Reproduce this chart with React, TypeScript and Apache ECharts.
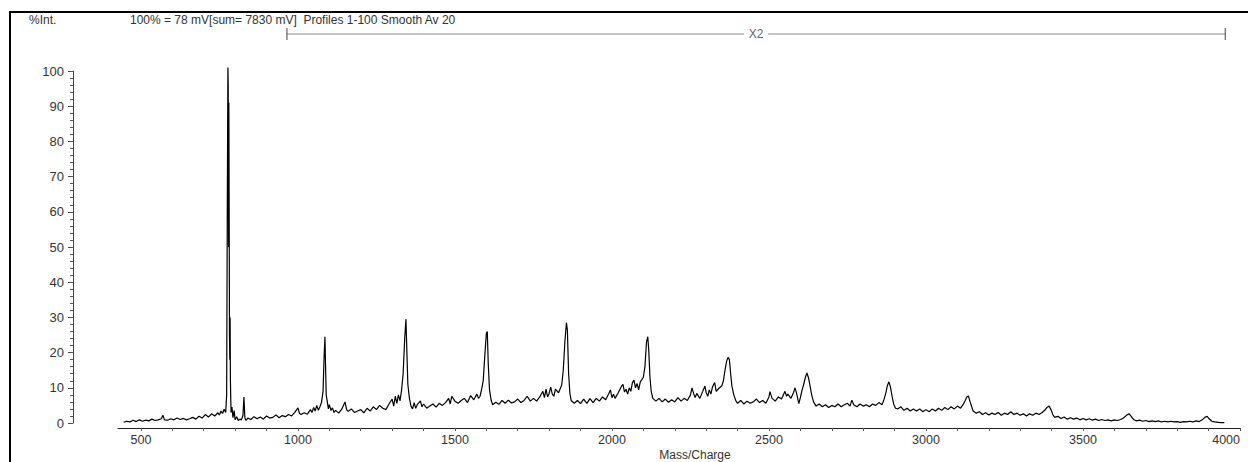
import React, { useEffect, useRef } from "react";
import * as echarts from "echarts";

const FONT = "'Liberation Sans', Arial, Helvetica, sans-serif";

const headerLeft = "%Int.";
const headerInfo = "100% = 78 mV[sum= 7830 mV]  Profiles 1-100 Smooth Av 20";
const xAxisTitle = "Mass/Charge";
const bracketLabel = "X2";
const bracketRange: [number, number] = [965, 3953];

const xMin = 427;
const xMax = 4000;
const xTickValues = [
  500, 600, 700, 800, 900, 1000, 1100, 1200, 1300, 1400, 1500, 1600, 1700, 1800, 1900, 2000,
  2100, 2200, 2300, 2400, 2500, 2600, 2700, 2800, 2900, 3000, 3100, 3200, 3300, 3400, 3500,
  3600, 3700, 3800, 3900, 4000,
];
const xLabelValues = [500, 1000, 1500, 2000, 2500, 3000, 3500, 4000];
const yMin = 0;
const yMax = 100;
const yStep = 10;
const yMinorStep = 2;

// [mass/charge, %intensity]
const lowMassRegion: [number, number][] = [
  [445, 0.2], [455, 0.5], [465, 0.3], [475, 0.8], [485, 0.4], [495, 0.9], [505, 0.5], [515, 0.8],
  [525, 0.6], [535, 1.1], [545, 0.7], [555, 0.9], [565, 1.2], [570, 2.2], [575, 0.9], [585, 0.8],
  [595, 1.2], [605, 0.9], [615, 1.4], [625, 1.0], [635, 1.3], [645, 0.9], [655, 1.2], [665, 1.6],
  [675, 1.1], [685, 1.9], [695, 1.4], [705, 2.4], [715, 1.7], [725, 2.6], [735, 2.0], [745, 2.9],
  [750, 2.3], [755, 3.4], [760, 2.7], [765, 3.9], [770, 3.0], [773, 8], [775, 60], [777, 101],
  [778, 96], [779, 50], [780, 91], [781, 60], [782, 25], [783, 18], [784, 30], [785, 12], [787, 3],
  [790, 4.5], [793, 1.5], [797, 3.5], [800, 0.9], [805, 1.8], [810, 0.7], [815, 1.1], [820, 0.9],
  [825, 2.2], [828, 7.4], [831, 1.4], [835, 0.7], [840, 1.4], [850, 1.0], [860, 1.8], [870, 1.2],
  [880, 1.7], [890, 1.1], [900, 2.0], [910, 1.4], [920, 1.6], [930, 2.3], [940, 1.5], [950, 2.1],
  [960, 1.8], [970, 2.4], [980, 2.0], [990, 3.0], [1000, 4.3], [1005, 2.7], [1010, 2.4], [1020, 2.9],
  [1030, 2.5], [1040, 3.8], [1045, 3.0], [1050, 4.4], [1055, 3.4], [1060, 5.0], [1065, 3.6],
  [1070, 4.6], [1075, 5.8], [1080, 9], [1083, 18], [1086, 24.5], [1088, 16], [1090, 8], [1093, 6.3],
  [1097, 4.0], [1100, 5.2], [1105, 3.6], [1110, 4.3], [1115, 3.0], [1120, 3.6], [1130, 2.8],
  [1140, 4.0], [1150, 6.0], [1155, 3.8], [1160, 3.3], [1170, 4.0], [1180, 3.0], [1190, 3.4],
  [1200, 3.8], [1210, 2.9], [1220, 4.2], [1230, 3.4], [1240, 4.6], [1250, 3.8], [1260, 5.0],
  [1270, 4.2], [1280, 3.8], [1290, 5.4], [1300, 6.8], [1305, 4.8], [1310, 7.6], [1315, 5.6],
  [1320, 8.0], [1325, 6.3], [1330, 9.3], [1335, 14], [1340, 24], [1344, 29.5], [1347, 20], [1350, 11],
  [1355, 7.0], [1360, 4.8], [1365, 4.0], [1370, 5.8], [1375, 4.2], [1380, 5.2], [1390, 6.3],
  [1395, 4.6], [1400, 5.4], [1410, 4.2], [1420, 4.8], [1430, 5.4], [1440, 4.5], [1450, 5.6],
  [1460, 5.0], [1470, 5.8], [1480, 7.0], [1485, 5.4], [1490, 7.6], [1500, 6.2], [1510, 5.6],
  [1520, 6.4], [1530, 7.0], [1540, 5.8], [1550, 7.8], [1560, 6.6], [1570, 8.2], [1575, 7.0],
  [1580, 7.6], [1585, 9.6], [1590, 12], [1595, 19], [1600, 25.5], [1603, 26], [1606, 17], [1610, 9.5],
  [1615, 6.6], [1620, 5.2], [1630, 5.9], [1640, 5.3], [1650, 6.4], [1660, 5.6], [1670, 6.5],
  [1680, 5.7], [1690, 6.0], [1700, 6.8], [1710, 5.8], [1720, 6.4], [1730, 7.6], [1740, 6.2],
  [1750, 7.0], [1760, 6.2], [1770, 7.4], [1780, 9.0], [1785, 7.2], [1790, 9.6], [1795, 7.4],
  [1800, 8.4], [1805, 10.2], [1810, 8.2], [1815, 7.6], [1820, 9.6], [1830, 8.6], [1840, 10.8],
  [1845, 15], [1850, 23], [1855, 28.5], [1858, 26.5], [1862, 14], [1866, 8.5],
];

const midMassRegion: [number, number][] = [
  [1870, 6.4], [1880, 5.6], [1890, 6.4], [1900, 5.5], [1910, 6.8], [1920, 5.6], [1930, 6.9],
  [1940, 5.8], [1950, 7.0], [1960, 6.2], [1970, 7.4], [1980, 6.6], [1990, 8.4], [1995, 9.4],
  [2000, 7.2], [2005, 8.2], [2010, 7.0], [2020, 8.6], [2030, 10.4], [2035, 11.0], [2040, 8.8],
  [2045, 9.6], [2050, 8.2], [2055, 10.0], [2060, 9.0], [2065, 11.4], [2070, 12.2], [2075, 10.0],
  [2080, 11.2], [2085, 9.4], [2090, 11.6], [2100, 13.0], [2105, 16], [2110, 23], [2114, 24.5],
  [2117, 21], [2121, 13], [2125, 9.0], [2130, 7.0], [2140, 6.2], [2150, 7.0], [2160, 6.0],
  [2170, 6.8], [2180, 5.9], [2190, 6.6], [2200, 6.0], [2210, 7.2], [2220, 6.2], [2230, 7.0],
  [2240, 6.4], [2250, 8.0], [2255, 10.0], [2260, 8.4], [2265, 7.2], [2270, 8.4], [2280, 7.0],
  [2290, 9.2], [2296, 10.5], [2300, 8.6], [2305, 7.6], [2310, 9.4], [2315, 8.2], [2320, 10.2],
  [2327, 11.5], [2332, 9.0], [2340, 9.8], [2350, 10.6], [2355, 12], [2360, 15], [2365, 17.5],
  [2370, 18.7], [2374, 18], [2378, 14], [2382, 10.5], [2388, 8.0], [2395, 6.2], [2400, 5.6],
  [2410, 6.4], [2420, 5.4], [2430, 6.2], [2440, 5.6], [2450, 6.0], [2460, 6.8], [2470, 5.8],
  [2480, 6.4], [2490, 5.6], [2500, 7.4], [2503, 8.9], [2510, 7.0], [2520, 6.2], [2530, 7.4],
  [2540, 6.8], [2551, 9.0], [2556, 7.6], [2560, 8.2], [2570, 7.0], [2578, 8.6], [2583, 10.0],
  [2588, 8.4], [2595, 5.5], [2600, 7.2], [2605, 9.2], [2610, 10.8], [2616, 13], [2621, 14.2],
  [2626, 12.8], [2631, 10.5], [2636, 8.0], [2642, 6.0], [2650, 4.8], [2660, 5.4], [2670, 4.6],
  [2680, 5.2], [2690, 4.4], [2700, 5.0], [2710, 4.6], [2720, 5.4], [2730, 4.6], [2740, 5.2],
  [2750, 5.6], [2758, 4.8], [2764, 6.5], [2770, 5.2], [2780, 4.6], [2790, 5.4], [2800, 4.8],
  [2810, 5.2], [2820, 4.6], [2830, 5.4], [2840, 5.0], [2850, 5.8], [2860, 5.2], [2866, 6.6],
  [2872, 8.4], [2877, 10.6], [2882, 11.7], [2887, 10.2], [2892, 7.6], [2897, 5.4],
];

const highMassRegion: [number, number][] = [
  [2903, 4.2], [2910, 4.0], [2920, 4.6], [2930, 3.6], [2940, 4.2], [2950, 3.4], [2960, 4.0],
  [2970, 3.4], [2980, 4.0], [2990, 3.2], [3000, 3.8], [3010, 3.2], [3020, 4.0], [3030, 3.4],
  [3040, 4.2], [3050, 3.6], [3060, 4.4], [3070, 3.8], [3080, 4.6], [3090, 4.0], [3100, 4.8],
  [3110, 4.2], [3118, 5.2], [3125, 6.4], [3130, 7.4], [3135, 7.7], [3140, 6.2], [3145, 4.8],
  [3150, 3.4], [3160, 2.8], [3170, 3.2], [3180, 2.4], [3190, 2.9], [3200, 2.3], [3210, 2.8],
  [3220, 2.4], [3230, 3.0], [3240, 2.2], [3250, 2.8], [3260, 2.4], [3270, 3.2], [3280, 2.4],
  [3290, 2.8], [3300, 2.2], [3310, 2.6], [3320, 2.0], [3330, 2.6], [3340, 2.2], [3350, 2.8],
  [3360, 2.4], [3370, 3.0], [3378, 3.6], [3385, 4.4], [3392, 4.8], [3398, 3.8], [3404, 2.4],
  [3410, 1.6], [3420, 1.9], [3430, 1.3], [3440, 1.7], [3450, 1.1], [3460, 1.5], [3470, 1.1],
  [3480, 1.4], [3490, 0.9], [3500, 1.3], [3510, 0.9], [3520, 1.2], [3530, 0.8], [3540, 1.1],
  [3550, 0.7], [3560, 1.0], [3570, 0.7], [3580, 0.9], [3590, 0.6], [3600, 0.9], [3610, 0.7],
  [3620, 1.0], [3630, 1.5], [3640, 2.3], [3647, 2.6], [3654, 1.8], [3661, 1.0], [3670, 0.6],
  [3680, 0.8], [3690, 0.5], [3700, 0.7], [3710, 0.4], [3720, 0.6], [3730, 0.4], [3740, 0.6],
  [3750, 0.3], [3760, 0.5], [3770, 0.3], [3780, 0.5], [3790, 0.3], [3800, 0.4], [3810, 0.2],
  [3820, 0.4], [3830, 0.3], [3840, 0.5], [3850, 0.3], [3860, 0.6], [3870, 0.4], [3880, 0.9],
  [3888, 1.6], [3895, 1.9], [3902, 1.2], [3910, 0.5], [3920, 0.3], [3930, 0.2], [3940, 0.1],
  [3950, 0.1],
];

const spectrum = [...lowMassRegion, ...midMassRegion, ...highMassRegion];

export default function App() {
  const ref = useRef<HTMLDivElement>(null);

  useEffect(() => {
    if (!ref.current) return;
    const chart = echarts.init(ref.current, undefined, { renderer: "svg" });
    const textStyle = { fontFamily: FONT, fontSize: 12, fill: "#333" };

    chart.setOption({
      animation: false,
      backgroundColor: "#ffffff",
      grid: { left: 118, right: 8, top: 71, bottom: 39, containLabel: false },
      xAxis: {
        type: "value",
        min: xMin,
        max: xMax,
        offset: 5,
        axisLine: { show: true, onZero: false, lineStyle: { color: "#222", width: 1 } },
        axisTick: {
          show: true,
          customValues: xTickValues,
          length: 3,
          lineStyle: { color: "#555", width: 1 },
        },
        axisLabel: {
          customValues: xLabelValues,
          formatter: (v: number) => String(v),
          color: "#333",
          fontSize: 12.5,
          fontFamily: FONT,
          margin: 5,
          alignMaxLabel: "right",
        },
        splitLine: { show: false },
      },
      yAxis: [
        {
          type: "value",
          min: yMin,
          max: yMax,
          interval: yStep,
          offset: 45,
          position: "left",
          axisLine: { show: true, lineStyle: { color: "#444", width: 1 } },
          axisTick: { show: true, inside: false, length: 5, lineStyle: { color: "#444", width: 1 } },
          axisLabel: { color: "#333", fontSize: 13, fontFamily: FONT, margin: 9 },
          splitLine: { show: false },
        },
        {
          type: "value",
          min: yMin,
          max: yMax,
          interval: yMinorStep,
          offset: 45,
          position: "left",
          axisLine: { show: false },
          axisTick: { show: true, inside: false, length: 3, lineStyle: { color: "#555", width: 1 } },
          axisLabel: { show: false },
          splitLine: { show: false },
        },
      ],
      series: [
        {
          type: "line",
          data: spectrum,
          yAxisIndex: 0,
          showSymbol: false,
          symbol: "none",
          clip: false,
          lineStyle: { color: "#000", width: 1.2 },
          emphasis: { disabled: true },
        },
      ],
    });

    const bx0 = chart.convertToPixel({ xAxisIndex: 0 }, bracketRange[0]) as number;
    const bx1 = chart.convertToPixel({ xAxisIndex: 0 }, bracketRange[1]) as number;
    const bmid = (bx0 + bx1) / 2;
    const by = 34;

    chart.setOption({
      graphic: [
        { type: "line", shape: { x1: 9, y1: 12, x2: 1248, y2: 12 }, style: { stroke: "#000", lineWidth: 2 } },
        { type: "line", shape: { x1: 10, y1: 11, x2: 10, y2: 462 }, style: { stroke: "#000", lineWidth: 2 } },
        { type: "text", x: 29, y: 20, style: { ...textStyle, text: headerLeft, verticalAlign: "middle", align: "left" } },
        { type: "text", x: 130, y: 20, style: { ...textStyle, text: headerInfo, verticalAlign: "middle", align: "left" } },
        { type: "text", x: 695, y: 455, style: { ...textStyle, text: xAxisTitle, verticalAlign: "middle", align: "center" } },
        { type: "line", shape: { x1: bx0, y1: by, x2: bmid - 12, y2: by }, style: { stroke: "#8a8a8a", lineWidth: 1 } },
        { type: "line", shape: { x1: bmid + 12, y1: by, x2: bx1, y2: by }, style: { stroke: "#8a8a8a", lineWidth: 1 } },
        { type: "line", shape: { x1: bx0, y1: 28, x2: bx0, y2: 40 }, style: { stroke: "#444", lineWidth: 1 } },
        { type: "line", shape: { x1: bx1, y1: 28, x2: bx1, y2: 40 }, style: { stroke: "#444", lineWidth: 1 } },
        { type: "text", x: bmid, y: by, style: { ...textStyle, fill: "#666", text: bracketLabel, verticalAlign: "middle", align: "center" } },
      ],
    });

    return () => chart.dispose();
  }, []);

  return (
    <div
      ref={ref}
      style={{ position: "fixed", left: 0, top: 0, width: 1248, height: 462, background: "#fff" }}
    />
  );
}
